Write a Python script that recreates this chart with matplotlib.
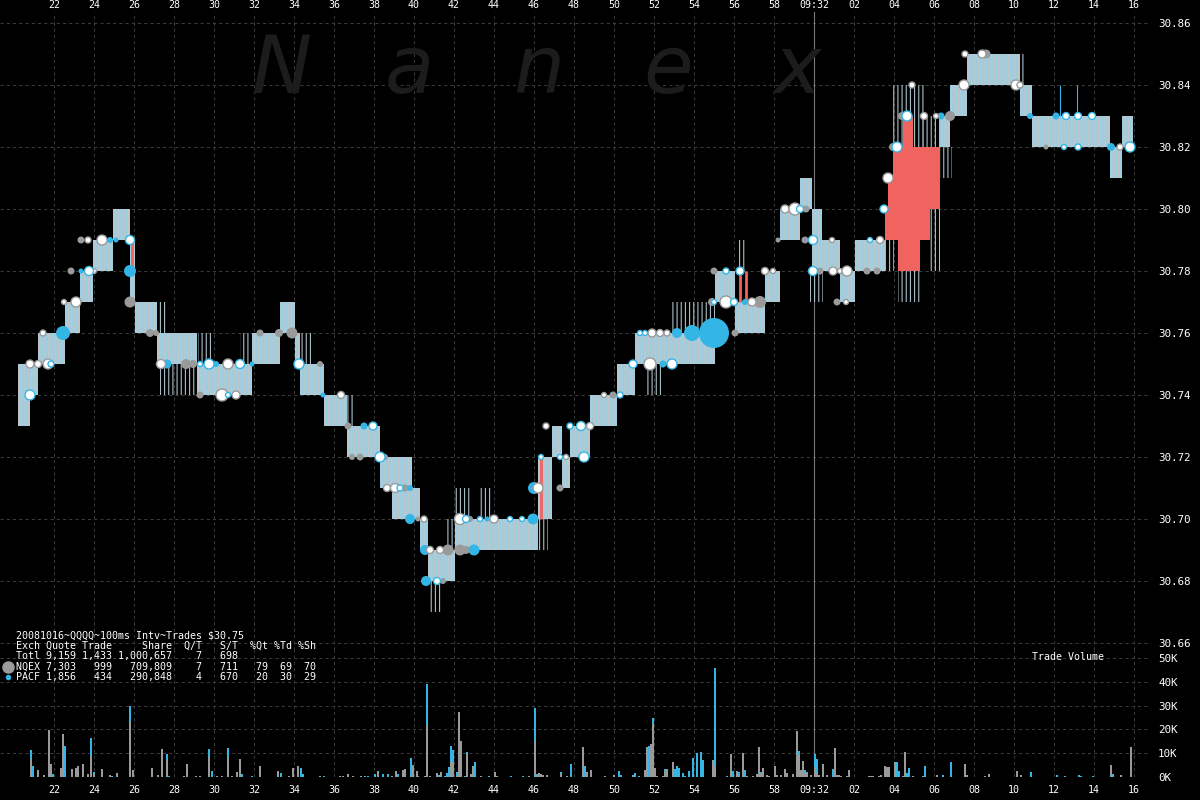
import numpy as np
import matplotlib
matplotlib.use('Agg')
import matplotlib.pyplot as plt

# time axis in seconds after 09:31:00
x_ticks = list(range(22, 77, 2))
price_ticks = [30.66, 30.68, 30.70, 30.72, 30.74, 30.76, 30.78, 30.80, 30.82, 30.84, 30.86]
vol_ticks = [0, 10, 20, 30, 40, 50]

# NBBO style quote band (bid / ask steps)
band_start = [20.2, 20.8, 21.2, 22.55, 23.3, 23.95, 24.95, 25.8, 26.05, 27.15,
              29.15, 31.9, 33.3, 34.05, 34.3, 35.5, 36.65, 38.3, 38.9, 39.9,
              40.3, 40.7, 42.05, 46.2, 46.9, 47.4, 47.8, 48.8, 50.15, 51.05,
              55.05, 56.05, 57.55, 58.3, 59.3, 59.9, 60.4, 61.3, 62.05, 66.3,
              66.8, 67.65, 70.3, 70.9, 74.8, 75.4]
band_end = [20.8, 21.2, 22.55, 23.3, 23.95, 24.95, 25.8, 26.05, 27.15, 29.15,
            31.9, 33.3, 34.05, 34.3, 35.5, 36.65, 38.3, 38.9, 39.9, 40.3,
            40.7, 42.05, 46.2, 46.9, 47.4, 47.8, 48.8, 50.15, 51.05, 55.05,
            56.05, 57.55, 58.3, 59.3, 59.9, 60.4, 61.3, 62.05, 63.55, 66.8,
            67.65, 70.3, 70.9, 74.8, 75.4, 75.95]
bid = [30.73, 30.74, 30.75, 30.76, 30.77, 30.78, 30.79, 30.77, 30.76, 30.75,
       30.74, 30.75, 30.76, 30.75, 30.74, 30.73, 30.72, 30.71, 30.70, 30.70,
       30.69, 30.68, 30.69, 30.70, 30.72, 30.71, 30.72, 30.73, 30.74, 30.75,
       30.77, 30.76, 30.77, 30.79, 30.80, 30.78, 30.78, 30.77, 30.78, 30.82,
       30.83, 30.84, 30.83, 30.82, 30.81, 30.82]
ask = [30.75, 30.75, 30.76, 30.77, 30.78, 30.79, 30.80, 30.79, 30.77, 30.76,
       30.75, 30.76, 30.77, 30.76, 30.75, 30.74, 30.73, 30.72, 30.72, 30.71,
       30.70, 30.69, 30.70, 30.72, 30.73, 30.72, 30.73, 30.74, 30.75, 30.76,
       30.78, 30.77, 30.78, 30.80, 30.81, 30.80, 30.79, 30.78, 30.79, 30.83,
       30.84, 30.85, 30.84, 30.83, 30.82, 30.83]

# single exchange quotes outside the band (sparse stripes)
wide_start = [27.05, 27.3, 29.2, 31.3, 34.3, 36.65, 40.75, 41.65, 42.05, 43.3,
              46.2, 51.55, 52.9, 56.2, 59.8, 63.55, 63.95, 64.2, 65.45, 65.8,
              66.3, 70.15]
wide_end = [27.65, 29.15, 29.9, 31.8, 34.9, 37.05, 41.4, 42.15, 42.8, 43.95,
            46.7, 52.45, 55.05, 56.65, 60.45, 64.0, 65.55, 65.3, 66.8, 66.3,
            66.9, 70.5]
wide_lo = [30.76, 30.74, 30.75, 30.75, 30.75, 30.73, 30.67, 30.69, 30.70, 30.70,
           30.69, 30.74, 30.76, 30.78, 30.77, 30.78, 30.82, 30.77, 30.82, 30.78,
           30.81, 30.84]
wide_hi = [30.77, 30.75, 30.76, 30.76, 30.76, 30.74, 30.68, 30.70, 30.71, 30.71,
           30.70, 30.75, 30.77, 30.79, 30.78, 30.79, 30.84, 30.78, 30.83, 30.80,
           30.82, 30.85]

# crossed quotes (red)
cross_start = [63.55, 63.7, 63.95, 64.2, 64.45, 64.95, 65.3, 65.8]
cross_end = [63.7, 63.95, 64.2, 64.45, 64.95, 65.3, 65.8, 66.3]
cross_lo = [30.79, 30.79, 30.79, 30.78, 30.78, 30.78, 30.79, 30.80]
cross_hi = [30.80, 30.81, 30.82, 30.82, 30.83, 30.82, 30.82, 30.82]
cross_tick_t = [25.9, 46.35, 56.3, 56.6]
cross_tick_lo = [30.781, 30.70, 30.77, 30.77]
cross_tick_hi = [30.789, 30.72, 30.78, 30.78]

# trades: NQEX filled
nq_tr_t = [22.85, 23.35, 25.8, 26.8, 27.1, 28.6, 28.95, 29.3, 32.3, 33.25,
           33.9, 35.3, 36.7, 36.9, 37.3, 38.55, 39.55, 40.2, 41.45, 41.7,
           42.3, 42.6, 42.8, 47.3, 49.95, 54.9, 57.3, 55.0, 56.05, 58.2,
           59.6, 59.55, 60.3, 62.65, 63.15, 61.15, 63.95, 64.4, 66.8, 68.6, 71.6]
nq_tr_px = [30.78, 30.79, 30.77, 30.76, 30.76, 30.75, 30.75, 30.74, 30.76, 30.76,
            30.76, 30.75, 30.73, 30.72, 30.72, 30.72, 30.71, 30.70, 30.68, 30.69,
            30.69, 30.69, 30.70, 30.71, 30.74, 30.77, 30.77, 30.78, 30.76, 30.79,
            30.80, 30.79, 30.78, 30.78, 30.78, 30.77, 30.82, 30.83, 30.83, 30.85, 30.82]
nq_tr_sz = [3.5, 3.5, 5.5, 4, 3, 5, 4, 3.5, 3.5, 4,
            5.5, 3, 3.5, 3, 3.5, 3, 3.5, 2.5, 3, 5.5,
            5.5, 4, 3, 3.5, 3.5, 4, 6, 3.5, 3.5, 2.5,
            3.5, 3.5, 3.5, 3.5, 3.5, 3.5, 4, 4, 5, 4.5, 2.5]

# trades: PACF filled
pa_tr_t = [22.45, 23.35, 24.8, 25.1, 25.8, 27.65, 30.1, 31.9, 35.45, 37.5,
           39.8, 39.8, 40.55, 40.6, 43.0, 43.65, 45.95, 46.0, 52.45, 53.15,
           53.9, 55.0, 56.55, 66.35, 70.8, 72.1, 74.85]
pa_tr_px = [30.76, 30.78, 30.79, 30.79, 30.78, 30.75, 30.75, 30.75, 30.74, 30.73,
            30.71, 30.70, 30.69, 30.68, 30.69, 30.70, 30.70, 30.71, 30.75, 30.76,
            30.76, 30.76, 30.77, 30.83, 30.83, 30.83, 30.82]
pa_tr_sz = [7, 2.5, 3, 2.5, 6, 4.5, 3, 2.5, 2.5, 3.5,
            3, 5, 5, 5, 5.5, 2.5, 5.5, 6, 3.5, 5,
            8, 15, 3, 3.5, 3, 3.5, 4]

# trades: NQEX hollow
nq_ho_t = [20.8, 21.2, 21.7, 21.45, 22.5, 23.1, 24.0, 23.7, 24.4, 27.35,
           30.7, 30.4, 31.1, 36.35, 38.65, 39.05, 40.5, 40.8, 41.3, 42.3,
           44.0, 46.2, 46.6, 47.6, 48.8, 49.5, 51.8, 51.9, 52.3, 52.65,
           55.6, 56.9, 57.55, 57.95, 58.55, 59.05, 60.9, 60.95, 61.3, 61.65,
           61.6, 63.3, 63.7, 64.9, 65.5, 66.1, 67.5, 67.55, 68.4, 70.1,
           70.3, 75.3]
nq_ho_px = [30.75, 30.75, 30.75, 30.76, 30.77, 30.77, 30.78, 30.79, 30.79, 30.75,
            30.75, 30.74, 30.74, 30.74, 30.71, 30.71, 30.70, 30.69, 30.69, 30.70,
            30.70, 30.71, 30.73, 30.72, 30.73, 30.74, 30.75, 30.76, 30.76, 30.76,
            30.77, 30.77, 30.78, 30.78, 30.80, 30.80, 30.79, 30.78, 30.78, 30.78,
            30.77, 30.79, 30.81, 30.84, 30.83, 30.83, 30.84, 30.85, 30.85, 30.84,
            30.84, 30.82]
nq_ho_sz = [4, 3.5, 5, 3, 2.5, 5, 2.5, 3, 5, 4.5,
            5, 6, 4, 3.5, 3.5, 4.5, 3, 3.5, 3.5, 5.5,
            4, 5, 3, 2.5, 3.5, 2.5, 6, 4, 3.5, 3,
            6, 4, 3.5, 2.5, 4, 6, 2.5, 4, 2.5, 5,
            2.5, 3.5, 5, 3, 3.5, 2.5, 5, 3, 4, 5,
            3, 3]

# trades: PACF hollow
pa_ho_t = [20.8, 21.85, 23.75, 25.8, 29.3, 29.75, 31.3, 30.7, 34.25, 37.95,
           38.3, 39.3, 41.15, 42.6, 43.3, 44.8, 45.4, 46.35, 47.3, 47.8,
           48.35, 48.5, 50.3, 50.95, 52.9, 51.3, 51.55, 55.0, 56.0, 55.6,
           56.3, 59.3, 59.95, 59.95, 62.8, 63.5, 64.15, 64.65, 72.6, 73.2,
           73.9, 72.5, 73.2, 75.8]
pa_ho_px = [30.74, 30.75, 30.78, 30.79, 30.75, 30.75, 30.75, 30.74, 30.75, 30.73,
            30.72, 30.71, 30.68, 30.70, 30.70, 30.70, 30.70, 30.72, 30.72, 30.73,
            30.73, 30.72, 30.74, 30.75, 30.75, 30.76, 30.76, 30.77, 30.77, 30.78,
            30.78, 30.80, 30.79, 30.78, 30.79, 30.80, 30.82, 30.83, 30.83, 30.83,
            30.83, 30.82, 30.82, 30.82]
pa_ho_sz = [5, 3, 4.5, 4.5, 2.5, 5, 4.5, 2.5, 5, 4,
            5, 3, 3.5, 3.5, 2.5, 2.5, 2.5, 2.5, 2.5, 3,
            4.5, 5, 3, 4, 5, 2.5, 2.5, 2.5, 3.5, 3,
            4, 3.5, 4.5, 4.5, 2.5, 4, 5, 5, 3.5, 3.5,
            3.5, 2.5, 3, 5]

# trade volume per 100ms (thousands of shares)
nq_vol_t = [20.85, 21.2, 21.5, 21.75, 21.85, 22.35, 22.45, 22.9, 23.1, 23.2,
            23.45, 23.7, 23.85, 24.0, 24.4, 24.8, 25.15, 25.8, 25.95, 26.9,
            27.2, 27.4, 27.65, 28.5, 28.65, 29.1, 29.3, 29.75, 30.15, 30.4,
            30.7, 30.9, 31.15, 31.3, 32.3, 33.2, 33.75, 33.95, 34.2, 35.3,
            36.3, 36.45, 36.7, 36.95, 37.35, 38.2, 38.9, 39.1, 39.45, 39.55,
            39.95, 40.15, 40.2, 40.55, 40.65, 40.8, 41.15, 41.35, 41.55, 41.85,
            41.95, 42.15, 42.25, 42.35, 42.65, 42.85, 42.95, 43.35, 44.05, 44.15,
            45.75, 46.05, 46.25, 46.35, 46.45, 46.65, 47.35, 47.65, 48.45, 48.65,
            48.85, 49.55, 50.0, 50.95, 51.55, 51.65, 51.85, 51.95, 52.05, 52.15,
            52.45, 52.55, 52.65, 52.95, 54.95, 55.05, 55.85, 56.15, 56.25, 56.45,
            56.65, 56.95, 57.15, 57.25, 57.35, 57.45, 57.65, 57.75, 58.05, 58.15,
            58.35, 58.55, 58.65, 58.95, 59.15, 59.25, 59.35, 59.45, 59.55, 59.65,
            59.85, 60.05, 60.15, 60.25, 60.45, 60.65, 61.05, 61.15, 61.25, 61.35,
            61.65, 61.75, 62.75, 62.85, 62.95, 63.25, 63.35, 63.55, 63.65, 63.75,
            64.05, 64.45, 64.55, 64.95, 65.45, 66.15, 67.55, 67.65, 68.55, 68.75,
            70.15, 70.35, 71.65, 74.85, 75.35, 75.85]
nq_vol = [7.7, 3, 0.7, 19.6, 5.6, 3.8, 18, 3.2, 3.8, 4.6,
          5.3, 1.1, 8.7, 1.1, 3.2, 0.7, 1.7, 23, 2.8, 3.8,
          0.7, 11.6, 7.3, 0.3, 5.3, 0.3, 0.3, 8.4, 0.4, 0.3,
          8.4, 0.4, 2.1, 7.7, 4.5, 2.5, 0.3, 3.9, 4.5, 0.3,
          0.3, 0.3, 1.1, 0.3, 0.6, 2, 0.3, 2.6, 2.8, 3.5,
          4.7, 2.6, 0.5, 0.5, 21.7, 0.5, 1.7, 2.2, 0.6, 6.5,
          6.5, 0.5, 27.2, 15.1, 9.7, 1.4, 4.7, 0.3, 2.2, 0.5,
          0.3, 15.1, 1.8, 1.4, 1, 1, 1.4, 0.5, 12.6, 2.2,
          3.1, 0.3, 1, 1, 2.8, 12.6, 13.9, 22.2, 3.9, 0.3,
          0.5, 2, 3.5, 6.4, 7.2, 4.7, 9.7, 2.6, 1, 10.1,
          0.3, 0.3, 1.4, 12.6, 1.4, 3.9, 1, 0.5, 4.7, 1,
          1, 3.5, 1.8, 1.2, 19.2, 9.2, 2.9, 6.7, 1.8, 2.1,
          1, 4.3, 1.5, 0.8, 5.4, 0.8, 12.1, 0.8, 0.8, 0.4,
          0.4, 2.9, 0.4, 0.4, 0.4, 0.4, 0.8, 4.6, 4.2, 4.2,
          5.9, 0.4, 10.4, 0.4, 0.4, 0.8, 5.4, 0.8, 0.4, 1.2,
          2.5, 0.8, 0.2, 5, 0.8, 12.5]
pa_vol_t = [20.85, 20.95, 21.95, 22.55, 23.85, 24.0, 24.9, 25.8, 27.65, 27.75,
            29.75, 29.9, 30.7, 31.4, 31.9, 33.35, 33.8, 34.35, 34.45, 35.5,
            37.55, 37.7, 38.05, 38.2, 38.45, 38.7, 39.2, 39.85, 39.95, 40.65,
            41.25, 41.65, 41.75, 41.85, 41.95, 42.15, 42.55, 42.65, 43.05, 43.75,
            44.85, 45.45, 46.05, 46.15, 47.35, 47.85, 48.55, 50.25, 50.35, 51.05,
            51.25, 51.75, 51.95, 52.55, 53.05, 53.15, 53.25, 53.45, 53.55, 53.75,
            53.95, 54.15, 54.35, 54.45, 55.05, 55.65, 55.95, 56.25, 56.55, 57.35,
            59.25, 59.55, 60.05, 60.15, 60.95, 64.05, 64.15, 64.25, 64.65, 64.75,
            65.55, 66.45, 66.85, 70.85, 72.15, 72.55, 73.25, 73.35, 73.95, 74.95]
pa_vol = [3.5, 4.5, 1.4, 12.9, 7.8, 1, 0.4, 7, 2.2, 0.3,
          3.5, 2.5, 3.9, 1.1, 0.3, 1.8, 0.2, 3.8, 1.4, 0.5,
          0.3, 0.3, 1.4, 0.5, 1.4, 1.1, 1.4, 8, 0.4, 17.2,
          1, 1.7, 4.3, 6.4, 4.9, 1.4, 0.5, 0.9, 6.4, 0.3,
          0.3, 0.5, 13.8, 1.4, 0.7, 5.6, 4.7, 2.6, 0.7, 1.8,
          0.5, 13, 2.5, 1.5, 3.5, 4.7, 3.9, 1.8, 0.3, 2.6,
          8, 10.1, 10.6, 7.2, 41.3, 0.5, 2.6, 1.2, 3.1, 0.8,
          1.6, 1.1, 5.3, 6, 3.3, 0.4, 6.3, 2.5, 1.7, 3.8,
          4.6, 0.8, 6.3, 2.1, 0.8, 0.3, 0.8, 0.3, 0.4, 1.2]

summary_lines = [
    "20081016~QQQQ~100ms Intv~Trades $30.75",
    "Exch Quote Trade     Share  Q/T   S/T  %Qt %Td %Sh",
    "Totl 9,159 1,433 1,000,657    7   698",
    "NQEX 7,303   999   709,809    7   711   79  69  70",
    "PACF 1,856   434   290,848    4   670   20  30  29",
]

GRAY = '#9a9a9a'
BLUE = '#33b5e5'
RED = '#f0635e'
GRID = '#3a3a3a'
MONO = 'DejaVu Sans Mono'

plt.rcParams['hatch.linewidth'] = 0.8

fig = plt.figure(figsize=(12, 8), dpi=100, facecolor='black')
W, H = 1200.0, 800.0
ax = fig.add_axes([0, 150 / H, 1150 / W, 638 / H])
axv = fig.add_axes([0, 23 / H, 1150 / W, 127 / H])

t_lo, t_hi = 19.3, 76.8
for a in (ax, axv):
    a.set_facecolor('black')
    a.set_xlim(t_lo, t_hi)
    for s in a.spines.values():
        s.set_visible(False)
    a.set_xticks(x_ticks)
    a.grid(True, color=GRID, linestyle=(0, (3, 3)), linewidth=0.75)
    a.set_axisbelow(True)
    a.yaxis.tick_right()
    a.tick_params(axis='y', length=0, pad=5.8, labelsize=7.8, labelcolor='white')
    a.axvline(60, color='#777777', linewidth=0.8, zorder=1.5)

tick_names = ['09:32' if t == 60 else '%02d' % (t % 60) for t in x_ticks]

ax.set_ylim(30.65774, 30.86355)
ax.set_yticks(price_ticks)
ax.set_yticklabels(['%.2f' % p for p in price_ticks], family=MONO)
ax.xaxis.tick_top()
ax.tick_params(axis='x', length=0, pad=1.6, labelsize=7.2, labelcolor='white')
ax.set_xticklabels(tick_names, family=MONO)

axv.set_ylim(0, 53.36)
axv.set_yticks(vol_ticks)
axv.set_yticklabels(['%dK' % v for v in vol_ticks], family=MONO)
axv.tick_params(axis='x', length=0, pad=6, labelsize=7.2, labelcolor='white')
axv.set_xticklabels(tick_names, family=MONO)

# quote band
bs, be = np.array(band_start), np.array(band_end)
ax.bar(bs, np.array(ask) - np.array(bid), width=be - bs, bottom=bid, align='edge',
       color='#9ccde0', edgecolor='#c6c6c6', hatch='|||||', linewidth=0, zorder=2)
ws, we = np.array(wide_start), np.array(wide_end)
ax.bar(ws, np.array(wide_hi) - np.array(wide_lo), width=we - ws, bottom=wide_lo,
       align='edge', color='none', edgecolor='#a9bfc8', hatch='||||', linewidth=0, zorder=1.8)
cs, ce = np.array(cross_start), np.array(cross_end)
ax.bar(cs, np.array(cross_hi) - np.array(cross_lo), width=ce - cs, bottom=cross_lo,
       align='edge', color=RED, linewidth=0, zorder=3)
ax.vlines(cross_tick_t, cross_tick_lo, cross_tick_hi, color=RED, linewidth=2, zorder=3)
ax.vlines([72.3, 73.15], 30.83, 30.84, color=BLUE, linewidth=0.8, zorder=2.5)


def area(r):
    return (1.44 * np.array(r)) ** 2


ax.scatter(nq_tr_t, nq_tr_px, s=area(nq_tr_sz), color=GRAY, linewidths=0, zorder=5)
ax.scatter(pa_tr_t, pa_tr_px, s=area(pa_tr_sz), color=BLUE, linewidths=0, zorder=5)
ax.scatter(nq_ho_t, nq_ho_px, s=area(nq_ho_sz), facecolor='white', edgecolor=GRAY,
           linewidths=1.0, zorder=6)
ax.scatter(pa_ho_t, pa_ho_px, s=area(pa_ho_sz), facecolor='white', edgecolor=BLUE,
           linewidths=1.0, zorder=6)

# volume bars, PACF stacked on NQEX
axv.bar(nq_vol_t, nq_vol, width=0.09, color=GRAY, linewidth=0, zorder=2)
nq_at = dict(zip(nq_vol_t, nq_vol))
axv.bar(pa_vol_t, pa_vol, width=0.09, bottom=[nq_at.get(t, 0) for t in pa_vol_t],
        color=BLUE, linewidth=0, zorder=2)

# overlay in pixel coordinates for watermark and text
ov = fig.add_axes([0, 0, 1, 1], zorder=10)
ov.set_xlim(0, W)
ov.set_ylim(H, 0)
ov.axis('off')
ov.patch.set_alpha(0)

for ch, xc in zip('Nanex', [282, 409, 539, 668, 797]):
    fig.text(xc / W, 1 - 93 / H, ch, fontsize=58, style='italic', color='#1c1c1c',
             ha='center', va='baseline', zorder=0.1)

for i, line in enumerate(summary_lines):
    ov.text(16, 636 + 10.2 * i, line, family=MONO, fontsize=7.2, color='white',
            va='center', ha='left')
ov.plot([8], [667], 'o', color=GRAY, markersize=9, markeredgewidth=0)
ov.plot([8], [677], 'o', color=BLUE, markersize=4, markeredgewidth=0)
ov.text(1032, 657, 'Trade Volume', family=MONO, fontsize=7.2, color='white',
        va='center', ha='left')

fig.savefig('out.png', dpi=100, facecolor='black')
